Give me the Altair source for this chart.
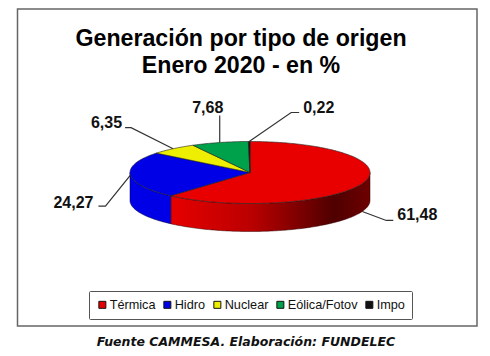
import math
import altair as alt
import pandas as pd

categories = ["Térmica", "Hidro", "Nuclear", "Eólica/Fotov", "Impo"]
values = [61.48, 24.27, 6.35, 7.68, 0.22]
value_labels = ["61,48", "24,27", "6,35", "7,68", "0,22"]
colors = ["#e80000", "#0000e6", "#eeee00", "#00a14b", "#111111"]

title_lines = ["Generación por tipo de origen", "Enero 2020 - en %"]
caption = "Fuente CAMMESA. Elaboración: FUNDELEC"

# pie geometry
CX, CY, RX, RY, DEPTH = 250.0, 172.5, 120.0, 31.0, 28.0
X_DOM = [8, 482]
Y_DOM = [348, 8]
W, H = X_DOM[1] - X_DOM[0], Y_DOM[0] - Y_DOM[1]


def rim(theta):
    r = math.radians(theta)
    return CX + RX * math.sin(r), CY - RY * math.cos(r)


total = sum(values)
edges = [0.0]
for v in values:
    edges.append(edges[-1] + v / total * 360)

# top face polygons
rows = []
for i, c in enumerate(categories):
    a0, a1 = edges[i], edges[i + 1]
    n = max(2, int((a1 - a0) / 1.0))
    pts = [(CX, CY)] + [rim(a0 + (a1 - a0) * k / n) for k in range(n + 1)]
    for k, (x, y) in enumerate(pts):
        rows.append({"cat": c, "x": x, "y": y, "k": k})
top_df = pd.DataFrame(rows)


# front wall
def wall(a0, a1):
    n = max(2, int((a1 - a0) / 1.0))
    out = []
    for k in range(n + 1):
        x, y = rim(a0 + (a1 - a0) * k / n)
        out.append({"x": x, "y": y, "y2": y + DEPTH})
    return pd.DataFrame(out).sort_values("x")


x_enc = alt.X("x:Q", scale=alt.Scale(domain=X_DOM, nice=False, zero=False), axis=None)
y_enc = alt.Y("y:Q", scale=alt.Scale(domain=Y_DOM, nice=False, zero=False), axis=None)

red_wall = alt.Chart(wall(90, edges[1])).mark_area(
    orient="vertical",
    stroke="#300000",
    strokeWidth=0.5,
    color=alt.Gradient(
        gradient="linear",
        x1=0, x2=1, y1=0, y2=0,
        stops=[
            alt.GradientStop(offset=0, color="#e60000"),
            alt.GradientStop(offset=0.4, color="#bb0000"),
            alt.GradientStop(offset=0.82, color="#4f0000"),
            alt.GradientStop(offset=1, color="#6e0000"),
        ],
    ),
).encode(x=x_enc, y=y_enc, y2="y2:Q")

blue_wall = alt.Chart(wall(edges[1], 270)).mark_area(
    orient="vertical", color=colors[1], stroke="#000033", strokeWidth=0.5
).encode(x=x_enc, y=y_enc, y2="y2:Q")

top = alt.Chart(top_df).mark_line(
    interpolate="linear-closed", stroke="#222222", strokeWidth=0.6
).encode(
    x=x_enc,
    y=y_enc,
    order="k:Q",
    fill=alt.Fill(
        "cat:N",
        scale=alt.Scale(domain=categories, range=colors),
        sort=categories,
        legend=alt.Legend(
            title=None,
            orient="none",
            legendX=81,
            legendY=283,
            direction="horizontal",
            columns=5,
            symbolType="square",
            symbolSize=49,
            symbolStrokeColor="#111111",
            symbolStrokeWidth=1,
            labelFont="Liberation Sans",
            labelFontSize=12.7,
            labelColor="#111111",
            labelOffset=1,
            columnPadding=5,
            padding=7,
            strokeColor="#555555",
            cornerRadius=1,
            fillColor="white",
        ),
    ),
)

# leader lines: start on the rim at each slice's mid-angle
elbow1 = [(24, 9), (-25, 31), (-42, -21), (0, -27), (42, -29)]
elbow2 = [(7, 0), (-7, 0), (-6, 0), (0, 0), (8, 0)]
lab_off = [(4, -5), (-5, -3), (-3, -5), (-12, -8), (4, -5)]
lab_align = ["left", "right", "right", "center", "left"]

line_rows, label_rows = [], []
for i, c in enumerate(categories):
    mid = (edges[i] + edges[i + 1]) / 2
    x0, y0 = rim(mid)
    if i == 0:
        y0 += DEPTH
    x1, y1 = x0 + elbow1[i][0], y0 + elbow1[i][1]
    x2, y2 = x1 + elbow2[i][0], y1 + elbow2[i][1]
    for k, (x, y) in enumerate([(x0, y0), (x1, y1), (x2, y2)]):
        line_rows.append({"cat": c, "x": x, "y": y, "k": k})
    label_rows.append(
        {"t": value_labels[i], "x": x2 + lab_off[i][0], "y": y2 + lab_off[i][1], "al": lab_align[i]}
    )

leaders = alt.Chart(pd.DataFrame(line_rows)).mark_line(
    stroke="#333333", strokeWidth=1.2
).encode(x=x_enc, y=y_enc, order="k:Q", detail="cat:N")

label_df = pd.DataFrame(label_rows)
label_layers = [
    alt.Chart(label_df[label_df.al == al]).mark_text(
        font="Liberation Sans", fontWeight="bold", fontSize=16, color="#111111", align=al, baseline="middle"
    ).encode(x=x_enc, y=y_enc, text="t:N")
    for al in ["left", "right", "center"]
]

border = alt.Chart(pd.DataFrame({"x": [17.5], "x2": [477], "y": [9], "y2": [326]})).mark_rect(
    fill="white", stroke="#666666", strokeWidth=1.5
).encode(x=x_enc, x2="x2:Q", y=y_enc, y2="y2:Q")

cap = alt.Chart(pd.DataFrame({"x": [246.0], "y": [341.5], "t": [caption]})).mark_text(
    font="DejaVu Sans", fontWeight="bold", fontStyle="italic", fontSize=12.5, color="#111111"
).encode(x=x_enc, y=y_enc, text="t:N")

chart = alt.layer(
    border, leaders, red_wall, blue_wall, top, *label_layers, cap
).resolve_scale(fill="independent").properties(
    width=W,
    height=H,
    padding=0,
    autosize=alt.AutoSizeParams(type="none"),
    background="white",
    title=alt.TitleParams(
        text=title_lines,
        font="Liberation Sans",
        fontWeight="bold",
        fontSize=23.2,
        lineHeight=27,
        color="#000000",
        anchor="middle",
        dx=-4,
        dy=74,
    ),
).configure_view(stroke=None)

chart.save("out.html", embed_options={"renderer": "svg", "actions": False})
